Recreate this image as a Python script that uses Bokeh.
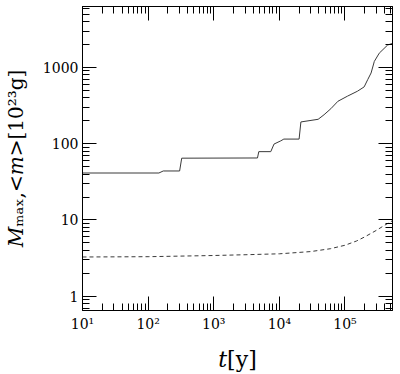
from bokeh.plotting import figure
from bokeh.models import LogAxis, FixedTicker, CustomJSTickFormatter
from bokeh.embed import file_html
from bokeh.resources import INLINE

# largest body mass M_max (solid) and mean mass <m> (dashed), in 1e23 g, vs time in years
t_max = [10, 146, 170, 302, 325, 4640, 4860, 7400, 8300, 10500, 11700, 20000, 21300,
         39000, 48000, 61000, 78000, 109000, 155000, 196000, 222000, 250000, 280000,
         333000, 447000, 530000]
m_max = [41.3, 41.3, 43.9, 43.9, 64.6, 65.0, 78.7, 78.7, 99, 109, 115, 115, 193,
         209, 240, 288, 360, 420, 488, 556, 692, 846, 1200, 1540, 1970, 2070]

t_mean = [10, 100, 1000, 3000, 10000, 30000, 60000, 100000, 150000, 200000, 300000,
          400000, 530000]
m_mean = [3.27, 3.30, 3.42, 3.50, 3.60, 3.85, 4.20, 4.66, 5.30, 6.00, 7.30, 8.50, 9.80]

x_major = [10, 100, 1000, 10000, 100000]
y_major = [1, 10, 100, 1000]

x_minor = [k * 10 ** n for n in range(1, 6) for k in range(2, 10)]
y_minor = [k * 10 ** n for n in range(-1, 4) for k in range(2, 10)]

SERIF = "DejaVu Serif"

p = figure(width=400, height=374, x_axis_type="log", y_axis_type="log",
           x_range=(10, 5.3e5), y_range=(0.65, 6300),
           output_backend="svg", toolbar_location=None,
           min_border_left=82, min_border_right=8, min_border_top=6, min_border_bottom=61)
p.xgrid.visible = False
p.ygrid.visible = False
p.outline_line_color = "black"
p.background_fill_color = "white"
p.border_fill_color = "white"

p.line(t_max, m_max, line_color="#3a3a3a", line_width=1)
p.line(t_mean, m_mean, line_color="#3a3a3a", line_width=1, line_dash="4 3")

sup_fmt = CustomJSTickFormatter(code="""
    const s = {"-1":"\u207b\u00b9","0":"\u2070","1":"\u00b9","2":"\u00b2","3":"\u00b3","4":"\u2074","5":"\u2075","6":"\u2076"};
    return "10" + s[String(Math.round(Math.log10(tick)))];
""")
plain_fmt = CustomJSTickFormatter(code="return String(Math.round(tick));")


def style(ax, major, minor):
    ax.ticker = FixedTicker(ticks=major, minor_ticks=minor)
    ax.axis_line_color = "black"
    ax.major_tick_line_color = "black"
    ax.minor_tick_line_color = "black"
    ax.major_tick_in = 14
    ax.major_tick_out = 0
    ax.minor_tick_in = 7
    ax.minor_tick_out = 0
    ax.major_label_text_font = SERIF
    ax.major_label_text_font_size = "14px"
    ax.major_label_text_color = "black"


xa = p.xaxis[0]
style(xa, x_major, x_minor)
xa.formatter = sup_fmt
xa.major_label_standoff = 5
xa.axis_label = "\U0001D461[y]"
xa.axis_label_text_font = SERIF
xa.axis_label_text_font_size = "22px"
xa.axis_label_text_font_style = "normal"
xa.axis_label_text_color = "black"
xa.axis_label_standoff = 12

ya = p.yaxis[0]
style(ya, y_major, y_minor)
ya.formatter = plain_fmt
ya.major_label_standoff = 4
ya.axis_label = "\U0001D440\u2098\u2090\u2093,<\U0001D45A>[10\u00b2\u00b3g]"
ya.axis_label_text_font = SERIF
ya.axis_label_text_font_size = "20px"
ya.axis_label_text_font_style = "normal"
ya.axis_label_text_color = "black"
ya.axis_label_standoff = 12

# mirrored tick marks on the top and right edges, without labels
top = LogAxis()
style(top, x_major, x_minor)
top.major_label_text_font_size = "1px"
top.major_label_text_alpha = 0
top.major_label_standoff = 0
p.add_layout(top, "above")

right = LogAxis()
style(right, y_major, y_minor)
right.major_label_text_font_size = "1px"
right.major_label_text_alpha = 0
right.major_label_standoff = 0
p.add_layout(right, "right")

open("out.html", "w").write(file_html(p, INLINE))
